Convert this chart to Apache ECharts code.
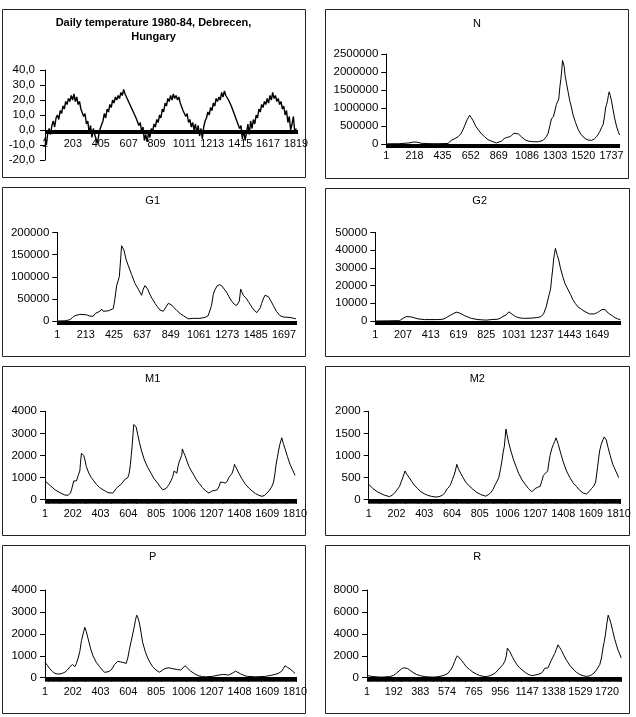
<!DOCTYPE html>
<html>
<head>
<meta charset="utf-8">
<script src="https://cdn.jsdelivr.net/npm/echarts@6/dist/echarts.min.js"></script>
<style>
  html, body { margin: 0; padding: 0; background: #fff; }
  #chart { width: 636px; height: 717px; }
</style>
</head>
<body>
<div id="chart"></div>
<script>
// daily temperature, sampled every 10 days starting at day 1
var tempStart = 1, tempStep = 10;
var tempValues = [
  -5, -10, -2, 1, -3, 3, 6, 2, 8, 10, 7, 13, 11, 16, 14, 19, 17, 21, 19, 23, 20, 24, 19, 22, 17, 19, 14, 15, 9, 11, 4, 6, -2, 3, -5, 1, -3,
  -6, -9, -3, 1, 0, 6, 11, 8, 14, 12, 17, 15, 20, 18, 22, 20, 23, 21, 25, 23, 27, 24, 25, 20, 21, 16, 17, 12, 13, 8, 9, 3, 5, -1, 2, -7, -3,
  -8, -2, -5, 1, -1, 4, 2, 7, 5, 10, 8, 14, 12, 18, 16, 21, 19, 23, 20, 24, 21, 23, 20, 22, 18, 17, 13, 14, 9, 11, 5, 7, 2, 5, 0, 4,
  -2, 3, -4, 1, -6, 2, 6, 8, 12, 10, 15, 13, 18, 16, 21, 19, 22, 20, 25, 22, 26, 23, 24, 20, 21, 16, 17, 11, 12, 6, 7, 1, 3, -6, 0, -7, -2,
  4, -3, 6, 1, 7, 4, 10, 8, 14, 12, 17, 15, 19, 17, 21, 18, 23, 20, 25, 21, 23, 19, 21, 17, 19, 14, 16, 10, 13, 5, 9, 0, 4, 9, -2, 1
];

// [day, value]
var nData = [[1,5000],[100,8000],[180,30000],[210,55000],[240,50000],[270,20000],[330,10000],[400,8000],[477,15000],[502,100000],[530,150000],[554,200000],[575,280000],[593,400000],[610,550000],[625,680000],[644,800000],[655,740000],[670,650000],[690,500000],[709,400000],[735,280000],[760,200000],[785,120000],[811,80000],[850,30000],[889,80000],[910,150000],[927,180000],[950,200000],[966,230000],[985,300000],[1000,350000],[1020,280000],[1043,200000],[1070,120000],[1095,80000],[1130,65000],[1172,60000],[1210,100000],[1235,200000],[1249,300000],[1262,500000],[1275,700000],[1290,760000],[1300,800000],[1313,1100000],[1322,1150000],[1331,1250000],[1340,1600000],[1347,1800000],[1353,2000000],[1360,2320000],[1366,2250000],[1373,2150000],[1380,1900000],[1390,1700000],[1403,1450000],[1416,1200000],[1430,1000000],[1442,800000],[1460,600000],[1481,400000],[1500,280000],[1519,200000],[1540,140000],[1558,110000],[1583,100000],[1605,140000],[1622,200000],[1635,270000],[1648,350000],[1660,450000],[1674,550000],[1685,800000],[1692,1000000],[1700,1100000],[1707,1200000],[1714,1350000],[1720,1450000],[1728,1350000],[1738,1200000],[1750,950000],[1763,700000],[1776,500000],[1789,350000],[1800,250000]];

var g1Data = [[1,0],[60,500],[96,3000],[115,8000],[133,12000],[170,15000],[220,14000],[245,11000],[270,11000],[285,17000],[295,20000],[320,22000],[333,27000],[345,22000],[358,20000],[383,23000],[420,28000],[432,50000],[445,80000],[465,100000],[475,140000],[482,170000],[490,168000],[500,160000],[515,140000],[532,125000],[557,105000],[582,85000],[607,72000],[632,58000],[644,72000],[657,80000],[665,76000],[677,72000],[694,60000],[712,50000],[732,40000],[750,32000],[769,25000],[794,22000],[815,32000],[832,40000],[857,36000],[875,30000],[894,24000],[920,17000],[944,12000],[981,5000],[1019,6000],[1068,6000],[1106,8000],[1130,12000],[1143,15000],[1155,35000],[1168,60000],[1180,70000],[1198,80000],[1215,82000],[1230,80000],[1250,72000],[1268,65000],[1285,55000],[1305,45000],[1325,38000],[1343,35000],[1355,38000],[1363,45000],[1373,72000],[1383,65000],[1393,58000],[1405,54000],[1418,50000],[1430,44000],[1443,38000],[1460,30000],[1480,22000],[1495,19000],[1505,20000],[1520,30000],[1530,40000],[1545,52000],[1555,58000],[1568,57000],[1580,55000],[1600,45000],[1617,35000],[1640,22000],[1667,12000],[1692,9000],[1742,8000],[1786,5000]];

var g2Data = [[1,0],[100,100],[182,200],[206,1500],[231,2500],[268,2300],[318,1200],[367,800],[466,800],[503,1000],[520,1500],[540,2500],[560,3300],[577,4000],[602,5000],[627,4500],[645,3800],[664,3000],[690,2200],[713,1500],[763,800],[824,500],[862,800],[911,1000],[930,1600],[948,2500],[973,3500],[993,5200],[1005,4500],[1022,3500],[1040,2600],[1059,2000],[1085,1600],[1109,1500],[1158,1600],[1208,2000],[1232,2500],[1250,4000],[1257,5000],[1270,8000],[1282,12000],[1292,15000],[1302,18000],[1310,24000],[1319,30000],[1325,35000],[1331,38000],[1338,41000],[1344,40000],[1352,37000],[1361,35000],[1375,30000],[1393,25000],[1410,21000],[1430,18000],[1450,15000],[1468,12000],[1485,10000],[1505,8000],[1525,7000],[1542,6000],[1565,5000],[1591,4000],[1628,4000],[1650,4800],[1665,5500],[1683,6500],[1695,6200],[1707,6500],[1720,5200],[1740,4000],[1760,3000],[1777,2000],[1800,1200],[1820,800]];

var m1Data = [[1,850],[37,650],[73,450],[109,320],[145,210],[169,200],[185,300],[193,450],[209,850],[229,850],[241,1100],[253,1300],[258,1700],[265,2100],[272,2050],[281,2000],[290,1800],[300,1500],[318,1200],[336,1000],[354,850],[372,700],[395,560],[420,450],[440,380],[456,320],[475,310],[492,300],[505,380],[516,500],[535,620],[552,700],[565,800],[576,900],[590,950],[600,1000],[610,1200],[619,1600],[625,2000],[631,2400],[637,2900],[643,3400],[650,3450],[660,3300],[672,2950],[684,2600],[700,2200],[720,1800],[745,1450],[768,1200],[790,950],[816,750],[835,580],[852,450],[865,480],[876,500],[888,600],[899,700],[912,850],[923,1000],[935,1300],[945,1250],[955,1200],[963,1500],[971,1700],[983,1750],[990,2000],[995,2300],[1003,2150],[1014,2000],[1028,1750],[1043,1500],[1060,1300],[1079,1100],[1097,900],[1115,750],[1140,550],[1163,400],[1187,300],[1200,350],[1211,400],[1230,420],[1247,450],[1260,600],[1271,800],[1290,780],[1307,750],[1320,850],[1331,1000],[1343,1100],[1355,1200],[1365,1400],[1372,1600],[1380,1500],[1392,1350],[1403,1200],[1425,950],[1451,700],[1475,530],[1499,400],[1523,280],[1547,200],[1571,150],[1590,200],[1607,300],[1625,420],[1642,600],[1655,800],[1665,1200],[1673,1600],[1682,1900],[1690,2200],[1700,2500],[1714,2800],[1725,2550],[1738,2300],[1755,1950],[1774,1600],[1792,1350],[1810,1100]];

var m2Data = [[1,350],[32,250],[68,170],[116,100],[152,70],[170,100],[188,150],[205,220],[224,300],[238,420],[248,500],[256,580],[264,650],[275,580],[295,500],[312,410],[331,330],[355,250],[379,180],[405,130],[427,100],[455,75],[487,60],[510,70],[535,100],[552,160],[570,250],[585,300],[594,350],[606,450],[618,550],[628,650],[638,800],[650,700],[666,600],[684,500],[702,400],[725,320],[750,250],[780,170],[810,120],[846,80],[865,110],[882,150],[900,230],[918,350],[930,420],[942,500],[955,700],[966,900],[975,1100],[982,1200],[988,1400],[994,1600],[1003,1450],[1013,1300],[1030,1100],[1049,900],[1067,750],[1085,600],[1110,450],[1133,350],[1157,250],[1181,180],[1193,220],[1205,250],[1222,280],[1241,300],[1253,420],[1265,550],[1280,600],[1296,650],[1305,850],[1313,1000],[1325,1150],[1337,1250],[1347,1320],[1356,1400],[1364,1330],[1373,1250],[1390,1050],[1409,850],[1432,650],[1456,500],[1480,380],[1504,300],[1528,210],[1552,150],[1576,130],[1595,180],[1612,250],[1628,300],[1643,400],[1657,750],[1671,1100],[1683,1250],[1695,1350],[1705,1420],[1712,1450],[1720,1350],[1731,1200],[1748,1000],[1767,800],[1788,650],[1810,500]];

var pData = [[1,700],[20,550],[37,400],[55,280],[73,200],[90,170],[109,170],[127,200],[145,250],[163,350],[181,500],[200,600],[210,560],[217,500],[228,650],[241,900],[253,1200],[265,1700],[277,2000],[289,2300],[300,2100],[312,1800],[330,1350],[348,1000],[372,700],[396,500],[415,350],[432,250],[450,260],[468,300],[486,400],[504,600],[516,680],[528,750],[546,720],[564,700],[576,680],[588,650],[600,900],[612,1300],[624,1650],[636,2000],[646,2300],[655,2600],[660,2750],[665,2850],[672,2750],[684,2500],[696,2050],[708,1600],[726,1200],[744,900],[762,680],[780,500],[804,350],[828,250],[846,320],[864,400],[882,440],[899,450],[917,420],[935,400],[960,370],[983,350],[1000,450],[1014,550],[1035,420],[1055,300],[1085,170],[1115,80],[1140,55],[1163,40],[1211,60],[1259,120],[1280,140],[1295,150],[1315,130],[1331,120],[1345,150],[1355,200],[1368,260],[1379,300],[1397,240],[1415,180],[1440,110],[1463,60],[1523,40],[1595,60],[1630,100],[1666,150],[1690,200],[1714,300],[1726,420],[1738,550],[1755,470],[1774,400],[1792,300],[1810,200]];

var rData = [[1,200],[44,100],[104,50],[163,100],[190,200],[211,400],[230,600],[247,800],[262,900],[276,950],[290,850],[307,700],[330,480],[354,300],[384,180],[414,100],[444,70],[474,50],[503,80],[533,150],[558,250],[581,400],[595,550],[605,800],[617,1100],[629,1500],[639,1800],[648,2000],[660,1850],[677,1600],[695,1300],[712,1000],[735,750],[760,500],[784,330],[808,200],[832,130],[856,100],[880,180],[903,300],[921,450],[939,700],[957,950],[975,1200],[988,1500],[999,2000],[1006,2700],[1014,2550],[1023,2400],[1040,1950],[1059,1500],[1077,1150],[1094,900],[1118,650],[1142,400],[1160,280],[1178,200],[1201,230],[1225,300],[1249,400],[1262,600],[1273,850],[1285,880],[1297,900],[1309,1250],[1321,1600],[1333,1900],[1345,2200],[1357,2600],[1369,3000],[1381,2750],[1393,2500],[1410,2050],[1429,1600],[1452,1150],[1476,800],[1500,500],[1524,300],[1548,180],[1572,120],[1590,150],[1608,250],[1626,420],[1644,700],[1656,950],[1668,1200],[1680,1800],[1692,2800],[1700,3300],[1709,4000],[1718,4900],[1728,5700],[1737,5400],[1747,5000],[1760,4300],[1775,3500],[1787,3000],[1799,2500],[1811,2150],[1821,1800]];

var tempData = tempValues.map(function (v, i) { return [tempStart + i * tempStep, v]; });

var FONT = 'Liberation Sans, Arial, sans-serif';

// layout of each panel (pixels) and its axes; xOff lifts the category line to y = 0
var panels = [
  { title: 'Daily temperature 1980-84, Debrecen,\nHungary', bold: true, data: tempData, lw: 1.4,
    box: [2, 9, 303, 168], tx: 153.5, ty: 30,
    grid: [45, 70, 252, 90], xMax: 1826, xStep: 202, yMin: -20, yMax: 40, yStep: 10, dec: true, xm: 9, ym: 10, xOff: -30 },
  { title: 'N', data: nData, box: [325, 9, 303, 169], tx: 477, ty: 24,
    grid: [386.3, 54, 233.4, 90], xMax: 1800, xStep: 217, yMin: 0, yMax: 2500000, yStep: 500000, xm: 7, ym: 8 },
  { title: 'G1', data: g1Data, box: [2, 187, 303, 169], tx: 152.7, ty: 200.7,
    grid: [57.3, 232.5, 238.7, 88.5], xMax: 1786, xStep: 212, yMin: 0, yMax: 200000, yStep: 50000, xm: 9, ym: 8 },
  { title: 'G2', data: g2Data, box: [325, 188, 304, 168], tx: 479.7, ty: 200.7,
    grid: [375.3, 232.5, 245.3, 88.5], xMax: 1821, xStep: 206, yMin: 0, yMax: 50000, yStep: 10000, xm: 9, ym: 8 },
  { title: 'M1', data: m1Data, box: [2, 366, 303, 169], tx: 152.7, ty: 379.3,
    grid: [45, 411.3, 251.7, 88.4], xMax: 1821, xStep: 201, yMin: 0, yMax: 4000, yStep: 1000, xm: 9, ym: 8 },
  { title: 'M2', data: m2Data, box: [325, 366, 304, 169], tx: 477.3, ty: 379.3,
    grid: [368.7, 411.3, 252, 88.4], xMax: 1823, xStep: 201, yMin: 0, yMax: 2000, yStep: 500, xm: 9, ym: 8 },
  { title: 'P', data: pData, box: [2, 545, 303, 168], tx: 152.7, ty: 556.7,
    grid: [45, 590, 251.7, 87.7], xMax: 1821, xStep: 201, yMin: 0, yMax: 4000, yStep: 1000, xm: 9, ym: 8 },
  { title: 'R', data: rData, box: [325, 545, 304, 168], tx: 477.3, ty: 556.7,
    grid: [367, 590, 254.3, 87.7], xMax: 1821, xStep: 191, yMin: 0, yMax: 8000, yStep: 2000, xm: 9, ym: 8 }
];

var grids = [], xAxes = [], yAxes = [], series = [], graphics = [];

panels.forEach(function (p, i) {
  grids.push({ left: p.grid[0], top: p.grid[1], width: p.grid[2], height: p.grid[3], containLabel: false });

  xAxes.push({
    type: 'value', gridIndex: i, min: 0, max: p.xMax, interval: p.xStep,
    position: 'bottom', offset: p.xOff || 0,
    axisLine: { onZero: false, lineStyle: { color: '#000', width: 1 } },
    axisTick: { show: true, length: 4, lineStyle: { color: '#000' } },
    minorTick: { show: true, splitNumber: 30, length: 4, lineStyle: { color: '#000' } },
    splitLine: { show: false },
    axisLabel: {
      margin: p.xm, fontSize: 10.8, color: '#000', fontFamily: FONT,
      formatter: function (v) { return v % p.xStep === 0 ? String(v + 1) : ''; }
    }
  });

  yAxes.push({
    type: 'value', gridIndex: i, min: p.yMin, max: p.yMax, interval: p.yStep,
    axisLine: { show: true, onZero: false, lineStyle: { color: '#000', width: 1 } },
    axisTick: { show: true, length: 5, lineStyle: { color: '#000' } },
    splitLine: { show: false },
    axisLabel: {
      margin: p.ym, fontSize: 11.5, color: '#000', fontFamily: FONT,
      formatter: function (v) { return p.dec ? v.toFixed(1).replace('.', ',') : String(v); }
    }
  });

  series.push({
    type: 'line', xAxisIndex: i, yAxisIndex: i,
    data: p.data.map(function (d) { return [d[0] - 1, d[1]]; }),
    showSymbol: false, symbol: 'none', smooth: false,
    lineStyle: { color: '#000', width: p.lw || 1 },
    silent: true
  });

  graphics.push({
    type: 'rect', silent: true,
    shape: { x: p.box[0] + 0.5, y: p.box[1] + 0.5, width: p.box[2], height: p.box[3] },
    style: { fill: 'none', stroke: '#222', lineWidth: 1 }
  });
  graphics.push({
    type: 'text', silent: true, x: p.tx, y: p.ty,
    style: {
      text: p.title, fill: '#000', fontSize: 11, fontFamily: FONT,
      fontWeight: p.bold ? 'bold' : 'normal', lineHeight: 14,
      align: 'center', verticalAlign: 'middle'
    }
  });
});

var chart = echarts.init(document.getElementById('chart'), null, { renderer: 'canvas' });
chart.setOption({
  backgroundColor: '#fff',
  animation: false,
  grid: grids,
  xAxis: xAxes,
  yAxis: yAxes,
  series: series,
  graphic: graphics
});
</script>
</body>
</html>
